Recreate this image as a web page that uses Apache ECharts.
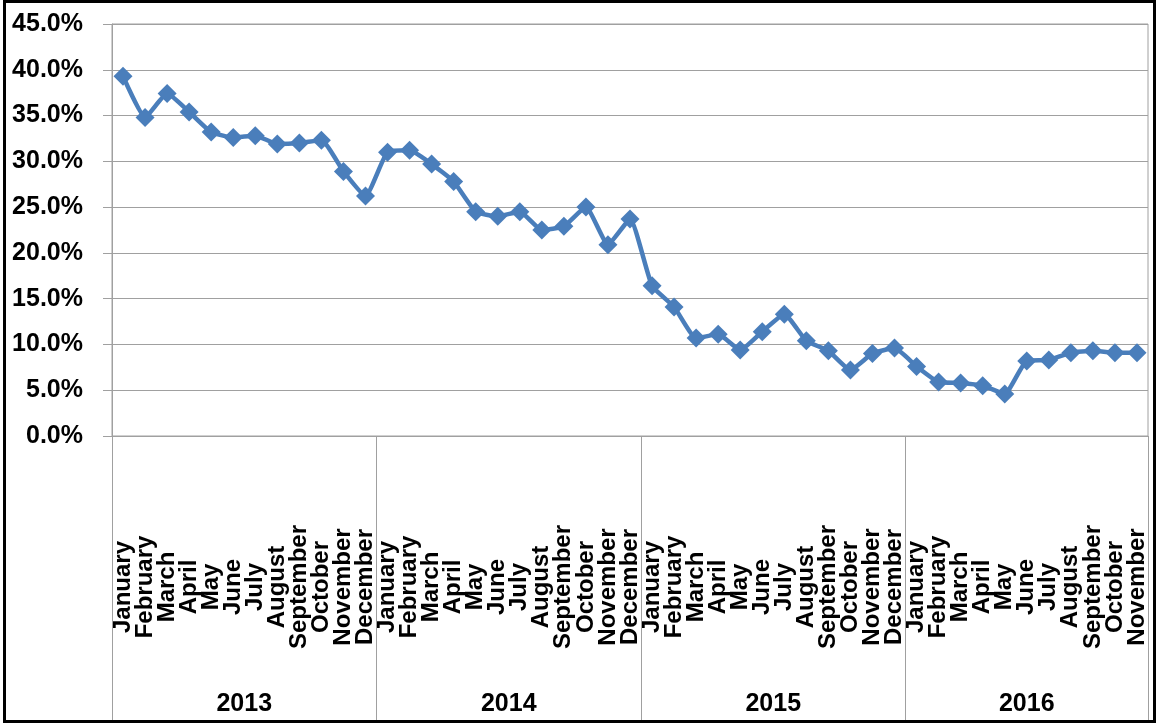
<!DOCTYPE html>
<html>
<head>
<meta charset="utf-8">
<script src="https://cdn.jsdelivr.net/npm/echarts@6/dist/echarts.min.js"></script>
<style>
html,body{margin:0;padding:0;background:#fff;}
#c{position:absolute;left:0;top:0;width:1156px;height:723px;}
#frame{position:absolute;left:3px;top:0;right:0;bottom:0;border:3px solid #000;pointer-events:none;}
</style>
</head>
<body>
<div id="c"></div>
<div id="frame"></div>
<script>
const months = ["January","February","March","April","May","June","July","August","September","October","November","December"];
const years = ["2013","2014","2015","2016"];
const monthsPerYear = [12,12,12,11];
const values = [
  39.3,34.8,37.4,35.4,33.2,32.6,32.8,31.9,32.0,32.3,28.9,26.2,
  31.0,31.2,29.7,27.8,24.5,24.0,24.5,22.5,22.9,25.0,20.9,23.7,
  16.4,14.1,10.7,11.1,9.4,11.4,13.3,10.4,9.3,7.2,9.0,9.6,
  7.6,5.9,5.8,5.5,4.6,8.2,8.3,9.1,9.3,9.1,9.1
];
const yTicks = [0,5,10,15,20,25,30,35,40,45];

const cats = [];
const boundaries = [0];
const yearCenters = [];
let acc = 0;
monthsPerYear.forEach((n,i)=>{
  for(let m=0;m<n;m++) cats.push(months[m]);
  yearCenters.push(acc + n/2);
  acc += n;
  boundaries.push(acc);
});

const FONT = '"Liberation Sans", Arial, sans-serif';
const chart = echarts.init(document.getElementById('c'));
chart.setOption({
  animation:false,
  grid:{left:112,right:8,top:24,bottom:287,show:true,borderColor:'#a0a0a0',borderWidth:1,containLabel:false},
  xAxis:[{
    type:'category',
    data:cats,
    boundaryGap:true,
    axisLine:{lineStyle:{color:'#a0a0a0',width:1}},
    axisTick:{show:false},
    axisLabel:{interval:0,rotate:90,align:'center',margin:151,color:'#000',fontFamily:FONT,fontWeight:'bold',fontSize:24}
  },{
    type:'value',
    min:0,max:acc,
    position:'bottom',
    axisLine:{show:false},
    splitLine:{show:false},
    axisTick:{show:true,customValues:boundaries,length:284,inside:false,lineStyle:{color:'#a0a0a0',width:1}},
    axisLabel:{customValues:yearCenters,margin:256,color:'#000',fontFamily:FONT,fontWeight:'bold',fontSize:25,
      formatter:function(v){const i=yearCenters.indexOf(v);return i>=0?years[i]:'';}}
  }],
  yAxis:{
    type:'value',min:yTicks[0],max:yTicks[yTicks.length-1],interval:5,
    axisLine:{show:true,lineStyle:{color:'#a0a0a0',width:1}},
    axisTick:{show:true,length:9,lineStyle:{color:'#a0a0a0'}},
    splitLine:{lineStyle:{color:'#a0a0a0',width:1}},
    axisLabel:{margin:29,color:'#000',fontFamily:FONT,fontWeight:'bold',fontSize:25,formatter:v=>v.toFixed(1)+'%'}
  },
  series:[{
    type:'line',
    xAxisIndex:0,
    data:values,
    smooth:0.15,
    symbol:'path://M0,-1L1,0L0,1L-1,0Z',
    symbolSize:19,
    lineStyle:{color:'#4a7ebb',width:4.5},
    itemStyle:{color:'#4a7ebb'}
  }]
});
</script>
</body>
</html>
